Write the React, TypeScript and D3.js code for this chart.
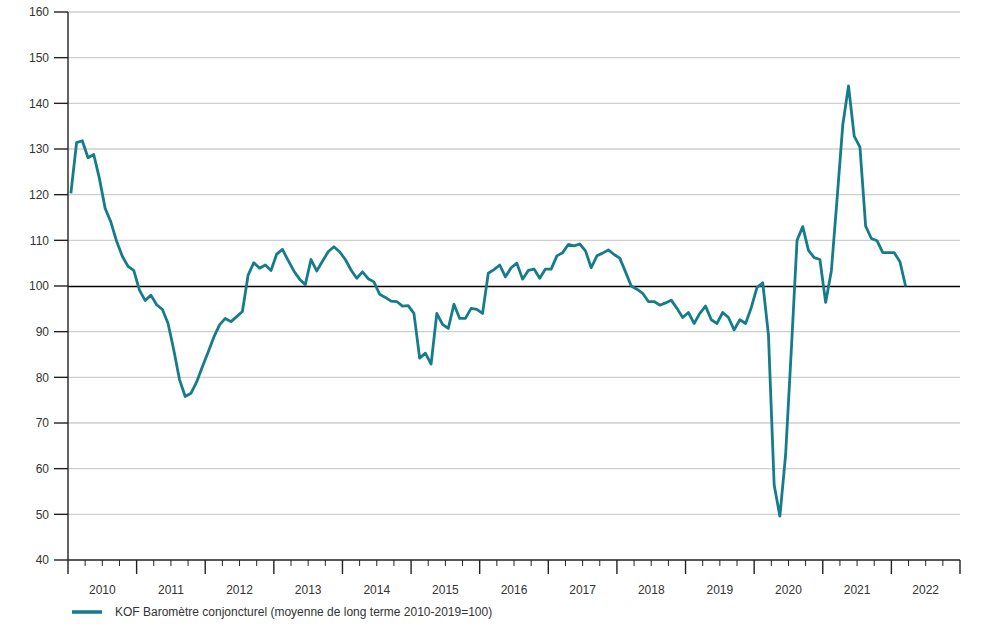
import * as d3 from 'd3';
import React from 'react';

// KOF Baromètre conjoncturel, monthly, Jan 2010 - Mar 2022
const startYear = 2010;
const barometer = [
  120.3, 131.4, 131.8, 128.1, 128.8, 123.5, 117.0, 114.0, 109.8, 106.5, 104.3, 103.4, // 2010
  99.1, 96.8, 98.0, 95.9, 94.9, 91.8, 86.0, 79.5, 75.8, 76.5, 79.0, 82.3, // 2011
  85.5, 88.8, 91.5, 92.9, 92.2, 93.3, 94.4, 102.4, 105.1, 103.9, 104.6, 103.4, // 2012
  107.0, 108.0, 105.6, 103.3, 101.5, 100.3, 105.8, 103.3, 105.4, 107.5, 108.6, 107.5, // 2013
  105.8, 103.5, 101.7, 103.1, 101.6, 100.9, 98.2, 97.5, 96.7, 96.6, 95.6, 95.7, // 2014
  94.0, 84.2, 85.3, 82.9, 94.0, 91.6, 90.7, 96.0, 92.9, 92.9, 95.1, 94.9, // 2015
  94.0, 102.8, 103.6, 104.6, 102.0, 104.0, 105.0, 101.5, 103.4, 103.7, 101.7, 103.7, // 2016
  103.7, 106.6, 107.3, 109.1, 108.8, 109.2, 107.7, 104.0, 106.6, 107.2, 107.9, 106.9, // 2017
  106.1, 103.1, 100.0, 99.3, 98.4, 96.6, 96.6, 95.8, 96.3, 96.9, 95.1, 93.1, // 2018
  94.2, 91.8, 94.0, 95.6, 92.6, 91.8, 94.2, 93.1, 90.4, 92.6, 91.8, 95.3, // 2019
  99.7, 100.7, 89.3, 56.4, 49.6, 63.0, 86.0, 110.0, 113.0, 107.8, 106.2, 105.8, // 2020
  96.4, 103.3, 119.0, 135.3, 143.8, 132.8, 130.4, 113.1, 110.4, 109.9, 107.3, 107.3, // 2021
  107.3, 105.3, 99.9, // 2022
];

const years = [2010, 2011, 2012, 2013, 2014, 2015, 2016, 2017, 2018, 2019, 2020, 2021, 2022];
const yTicks = [40, 50, 60, 70, 80, 90, 100, 110, 120, 130, 140, 150, 160];
const legendLabel = 'KOF Baromètre conjoncturel (moyenne de long terme 2010-2019=100)';

const width = 994;
const height = 640;
const margin = { left: 68, right: 34, top: 12, bottom: 80 };
const lineColor = '#157c8b';
const font = '"Liberation Sans", Arial, Helvetica, sans-serif';

const App: React.FC = () => {
  const x = d3.scaleLinear()
    .domain([years[0], years[years.length - 1] + 1])
    .range([margin.left, width - margin.right]);
  const y = d3.scaleLinear()
    .domain([40, 160])
    .range([height - margin.bottom, margin.top]);

  const line = d3.line<number>()
    .x((_d, i) => x(startYear + (i + 0.5) / 12))
    .y((d) => y(d));

  const quarters = d3.range(years[0], years[years.length - 1] + 1, 0.25);
  const x0 = x.range()[0];
  const x1 = x.range()[1];
  const yBase = y(40);

  return (
    <div style={{ position: 'absolute', left: 0, top: 0 }}>
      <svg width={width} height={height} style={{ display: 'block', background: '#fff' }} fontFamily={font}>
        {yTicks.filter((t) => t !== 40 && t !== 100).map((t) => (
          <line key={'g' + t} x1={x0} x2={x1} y1={y(t)} y2={y(t)} stroke="#cfcfcf" strokeWidth={1.3} />
        ))}
        <line x1={x0} x2={x1} y1={y(100) + 0.5} y2={y(100) + 0.5} stroke="#000" strokeWidth={1.3} />

        {/* y axis */}
        <line x1={x0} x2={x0} y1={y(160)} y2={yBase} stroke="#222" strokeWidth={1.4} />
        {yTicks.map((t) => (
          <g key={'y' + t}>
            <line x1={x0 - 14} x2={x0} y1={y(t)} y2={y(t)} stroke="#222" strokeWidth={1.4} />
            <text x={x0 - 19} y={y(t)} dy="0.35em" textAnchor="end" fontSize={12} fill="#333">{t}</text>
          </g>
        ))}

        {/* x axis */}
        <line x1={x0} x2={x1} y1={yBase} y2={yBase} stroke="#222" strokeWidth={1.4} />
        {quarters.map((q) => {
          const major = Number.isInteger(q);
          return (
            <line key={'q' + q} x1={x(q)} x2={x(q)} y1={yBase} y2={yBase + (major ? 14 : 6)}
              stroke="#222" strokeWidth={major ? 1.4 : 1} />
          );
        })}
        <line x1={x1} x2={x1} y1={yBase} y2={yBase + 14} stroke="#222" strokeWidth={1.4} />
        {years.map((yr) => (
          <text key={'t' + yr} x={x(yr + 0.5)} y={yBase + 34} textAnchor="middle" fontSize={12} fill="#333">{yr}</text>
        ))}

        <path d={line(barometer) ?? ''} fill="none" stroke={lineColor} strokeWidth={2.8} strokeLinejoin="round" />

        {/* legend */}
        <line x1={72} x2={102} y1={612} y2={612} stroke={lineColor} strokeWidth={3.5} />
        <text x={115} y={612} dy="0.35em" fontSize={12} fill="#333">{legendLabel}</text>
      </svg>
    </div>
  );
};

export default App;
